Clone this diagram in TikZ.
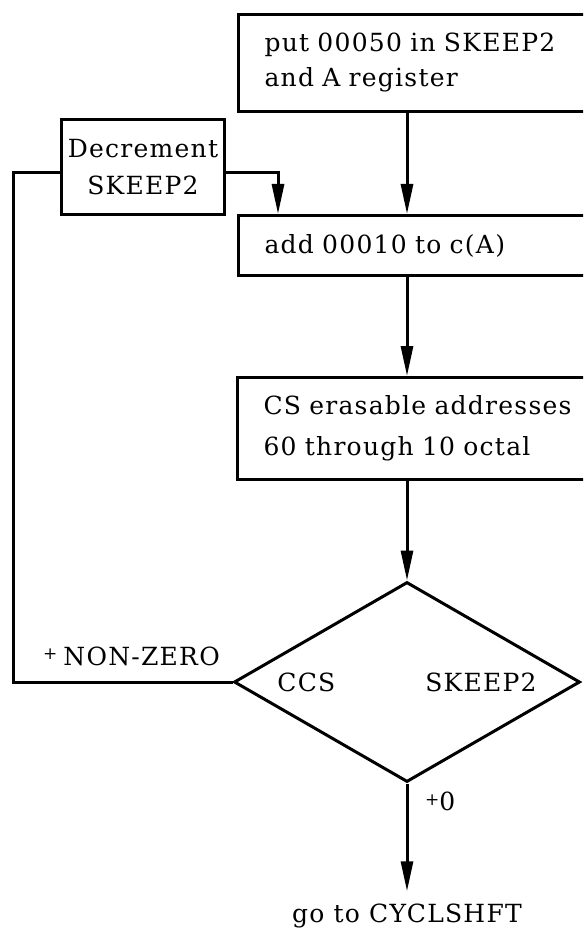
\documentclass[tikz,border=0pt]{standalone}
\usepackage{fontspec}
\setmainfont{DejaVu Serif}[LetterSpace=5]
\usetikzlibrary{shapes.geometric,arrows.meta}
\begin{document}
\begin{tikzpicture}[x=1pt,y=-1pt,
  every node/.style={font=\fontsize{25}{33}\selectfont},
  box/.style={draw, line width=3pt, inner xsep=26pt, inner ysep=0pt, text width=311pt, align=left, anchor=north west},
  sbox/.style={draw, line width=3pt, inner sep=0pt, align=center, anchor=north west},
  decision/.style={draw, diamond, line width=3pt, inner sep=0pt, shape aspect=1.73, minimum width=346pt, minimum height=200pt},
  conn/.style={line width=3pt, line join=miter},
  arr/.style={line width=3pt, line join=miter, -{Triangle[length=30pt,width=12pt]}},
  lbl/.style={inner sep=0pt}
]
\clip (0,0) rectangle (583,933);
\fill[white] (0,0) rectangle (583,933);

\node[box, minimum height=97pt] (top) at (237,13) {put 00050 in SKEEP2\\[2pt]and A register};
\node[sbox, minimum width=163pt, minimum height=95pt] (dec) at (60,118) {Decrement\\[4pt]SKEEP2};
\node[box, minimum height=60pt] (add) at (237,214) {add 00010 to c(A)};
\node[box, minimum height=102pt] (cs) at (236,376) {CS erasable addresses\\[8pt]60 through 10 octal};
\node[decision] (dia) at (407,682) {CCS\hspace{90pt}SKEEP2};

\node[lbl, anchor=base west] (nz) at (43,665) {\raisebox{6pt}{\fontsize{17}{17}\selectfont +}\hspace{6pt}NON-ZERO};
\node[lbl, anchor=base west] (pz) at (425,810) {\raisebox{5pt}{\fontsize{17}{17}\selectfont +}0};
\node[lbl, anchor=base] (goto) at (407,922) {go to CYCLSHFT};

\coordinate (dx) at (278,0);
\coordinate (lx) at (13,0);
\coordinate (decw) at ([yshift=-6pt]dec.west);
\coordinate (dece) at ([yshift=-6pt]dec.east);

\draw[arr] (top.south -| dia.north) -- (add.north -| dia.north);
\draw[arr] (dece) -| (add.north -| dx);
\draw[arr] (add.south -| dia.north) -- (cs.north -| dia.north);
\draw[arr] (cs.south -| dia.north) -- (dia.north);
\draw[arr, shorten >=12pt] (dia.south) -- (goto.north);
\draw[conn] (dia.west) -| (lx |- decw) -- (decw);
\end{tikzpicture}
\end{document}
